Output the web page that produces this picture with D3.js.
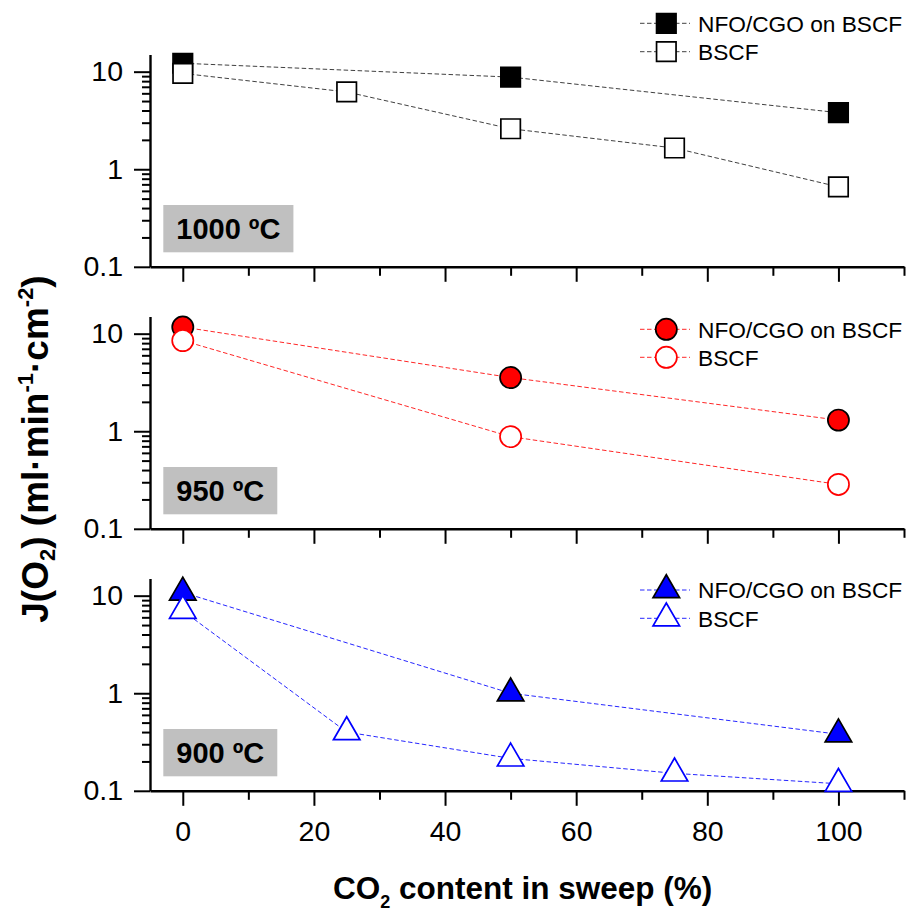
<!DOCTYPE html>
<html>
<head>
<meta charset="utf-8">
<script src="https://cdn.jsdelivr.net/npm/d3@7"></script>
<style>
body { margin: 0; background: #fff; }
svg { display: block; font-family: Arial, "Liberation Sans", sans-serif; }
</style>
</head>
<body>
<svg id="chart" width="907" height="914"></svg>
<script>
// data
const panelLabels = ['1000 \u00baC', '950 \u00baC', '900 \u00baC'];
const seriesNames = ['NFO/CGO on BSCF', 'BSCF'];

const x1000Coated = [0, 50, 100];
const y1000Coated = [12.2, 8.8, 3.8];
const x1000Bare = [0, 25, 50, 75, 100];
const y1000Bare = [9.6, 6.2, 2.6, 1.65, 0.66];

const x950Coated = [0, 50, 100];
const y950Coated = [11.7, 3.55, 1.3];
const x950Bare = [0, 50, 100];
const y950Bare = [8.5, 0.88, 0.285];

const x900Coated = [0, 50, 100];
const y900Coated = [10.8, 1.0, 0.38];
const x900Bare = [0, 25, 50, 75, 100];
const y900Bare = [7.0, 0.4, 0.215, 0.151, 0.118];

const xMajorTicks = [0, 20, 40, 60, 80, 100];
const xMinorTicks = [10, 30, 50, 70, 90, 110];
const yMajorTicks = [0.1, 1, 10];
const yTickLabels = ['0.1', '1', '10'];

const zip = (xs, ys) => xs.map((x, i) => ({ x, y: ys[i] }));

const panels = [
    { label: panelLabels[0], color: '#000', shape: 'square', legendY: [23.3, 51.7],
      coated: zip(x1000Coated, y1000Coated), bare: zip(x1000Bare, y1000Bare) },
    { label: panelLabels[1], color: '#ff0000', shape: 'circle', legendY: [329.3, 357.3],
      coated: zip(x950Coated, y950Coated), bare: zip(x950Bare, y950Bare) },
    { label: panelLabels[2], color: '#0000ff', shape: 'triangle', legendY: [590, 618.3],
      coated: zip(x900Coated, y900Coated), bare: zip(x900Bare, y900Bare) }
];

const svg = d3.select('#chart');
const left = 150, right = 904;
const plotH = 212.3, panelStep = 262, firstTop = 54.5;

const x = d3.scaleLinear().domain([-5, 110]).range([left, right]);

// minor ticks for the log axis (2..9 in every decade)
const yMinorTicks = [];
[0.1, 1, 10].forEach((d) => {
    for (let k = 2; k <= 9; k += 1) {
        if (d * k <= 15) yMinorTicks.push(d * k);
    }
});

const markerPath = (shape) => {
    if (shape === 'square') {
        const s = 19.5 / 2;
        return `M${-s},${-s}H${s}V${s}H${-s}Z`;
    }
    if (shape === 'circle') {
        return d3.symbol(d3.symbolCircle, Math.PI * 10.6 * 10.6)();
    }
    // equilateral triangle, centroid on the point
    const side = 26.5;
    const h = side * Math.sqrt(3) / 2;
    return `M0,${-2 * h / 3}L${side / 2},${h / 3}L${-side / 2},${h / 3}Z`;
};

const drawMarker = (g, cx, cy, panel, filled) => {
    g.append('path')
        .attr('d', markerPath(panel.shape))
        .attr('transform', `translate(${cx},${cy})`)
        .attr('fill', filled ? panel.color : '#fff')
        .attr('stroke', filled ? '#000' : panel.color)
        .attr('stroke-width', 1.7);
};

panels.forEach((panel, i) => {
    const top = firstTop + i * panelStep;
    const bottom = top + plotH;
    const y = d3.scaleLog().domain([0.1, 15]).range([bottom, top]);
    const g = svg.append('g');

    // label box
    const labelG = g.append('g');
    const labelText = labelG.append('text')
        .attr('y', top + 150.5 + 34.3)
        .attr('font-size', 29)
        .attr('font-weight', 'bold')
        .attr('text-anchor', 'middle')
        .text(panel.label);
    const tw = labelText.node().getComputedTextLength();
    const boxW = tw + 26;
    labelG.insert('rect', 'text')
        .attr('x', 163.3)
        .attr('y', top + 150.5)
        .attr('width', boxW)
        .attr('height', 47.3)
        .attr('fill', '#c0c0c0');
    labelText.attr('x', 163.3 + boxW / 2);

    // axes
    const xMajor = d3.axisBottom(x).tickValues(xMajorTicks).tickSize(15).tickSizeOuter(0);
    if (i < 2) xMajor.tickFormat('');
    const xAxisG = g.append('g').attr('transform', `translate(0,${bottom})`).call(xMajor);
    g.append('g').attr('transform', `translate(0,${bottom})`)
        .call(d3.axisBottom(x).tickValues(xMinorTicks).tickSize(9).tickSizeOuter(0).tickFormat(''))
        .select('.domain').remove();
    xAxisG.selectAll('text')
        .attr('y', 50.5)
        .attr('dy', null)
        .attr('font-size', 28.5)
        .attr('font-family', 'Arial, "Liberation Sans", sans-serif')
        .attr('fill', '#000');

    const yAxisG = g.append('g').attr('transform', `translate(${left},0)`)
        .call(d3.axisLeft(y).tickValues(yMajorTicks).tickSize(16).tickSizeOuter(0).tickPadding(11)
            .tickFormat((d, k) => yTickLabels[k]));
    g.append('g').attr('transform', `translate(${left},0)`)
        .call(d3.axisLeft(y).tickValues(yMinorTicks).tickSize(8).tickSizeOuter(0).tickFormat(''))
        .select('.domain').remove();
    yAxisG.selectAll('text')
        .attr('font-size', 28.5)
        .attr('font-family', 'Arial, "Liberation Sans", sans-serif')
        .attr('fill', '#000');

    g.selectAll('.domain').attr('stroke', '#000').attr('stroke-width', 2.4);
    g.selectAll('.tick line').attr('stroke', '#000').attr('stroke-width', 2);

    // series lines and markers
    const line = d3.line().x((d) => x(d.x)).y((d) => y(d.y));
    [panel.coated, panel.bare].forEach((series) => {
        g.append('path')
            .datum(series)
            .attr('d', line)
            .attr('fill', 'none')
            .attr('stroke', panel.color)
            .attr('stroke-opacity', panel.color === '#000' ? 0.75 : 0.85)
            .attr('stroke-width', 1)
            .attr('stroke-dasharray', '4.5,2.5');
    });
    panel.coated.forEach((d) => drawMarker(g, x(d.x), y(d.y), panel, true));
    panel.bare.forEach((d) => drawMarker(g, x(d.x), y(d.y), panel, false));

    // legend
    seriesNames.forEach((name, k) => {
        const ly = panel.legendY[k];
        g.append('line')
            .attr('x1', 640).attr('x2', 690)
            .attr('y1', ly).attr('y2', ly)
            .attr('stroke', panel.color)
            .attr('stroke-opacity', panel.color === '#000' ? 0.75 : 0.85)
            .attr('stroke-width', 1)
            .attr('stroke-dasharray', '4.5,2.5');
        drawMarker(g, 666.3, ly, panel, k === 0);
        g.append('text')
            .attr('x', 698)
            .attr('y', ly + 8.2)
            .attr('font-size', 22.7)
            .text(name);
    });
});

// axis titles
const xTitle = svg.append('text')
    .attr('x', 333)
    .attr('y', 899)
    .attr('font-size', 31.5)
    .attr('font-weight', 'bold');
xTitle.append('tspan').text('CO');
xTitle.append('tspan').attr('font-size', 18).attr('dy', 9).text('2');
xTitle.append('tspan').attr('dy', -9).text(' content in sweep (%)');

const yTitle = svg.append('text')
    .attr('transform', 'translate(48,449) rotate(-90)')
    .attr('text-anchor', 'middle')
    .attr('font-size', 37)
    .attr('font-weight', 'bold');
yTitle.append('tspan').text('J(O');
yTitle.append('tspan').attr('font-size', 22).attr('dy', 7).text('2');
yTitle.append('tspan').attr('dy', -7).text(') (ml\u00b7min');
yTitle.append('tspan').attr('font-size', 22).attr('dy', -15).text('-1');
yTitle.append('tspan').attr('dy', 15).text('\u00b7cm');
yTitle.append('tspan').attr('font-size', 22).attr('dy', -15).text('-2');
yTitle.append('tspan').attr('dy', 15).text(')');
</script>
</body>
</html>
